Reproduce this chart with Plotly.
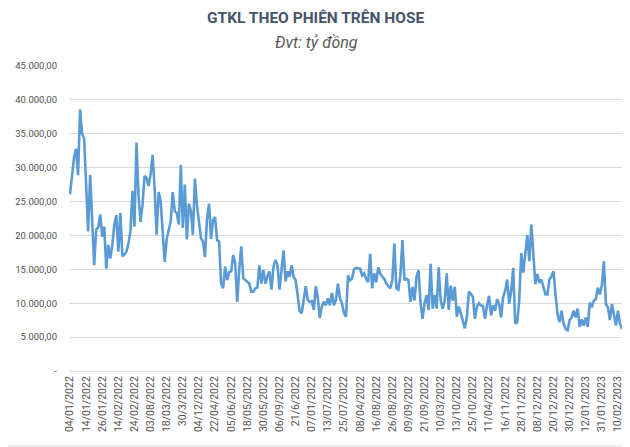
import plotly.graph_objects as go

values = [
    26100, 28500, 31500, 32800, 28900, 38600, 35000, 34300, 28500, 20600,
    28900, 22000, 15600, 20900, 21200, 23100, 19800, 21300, 15100, 18600,
    16600, 18600, 21600, 23000, 17600, 23300, 16900, 17200, 17600, 18800,
    20600, 26600, 21300, 33700, 26000, 22000, 24500, 28800, 28500, 27300,
    29000, 31900, 27000, 20100, 26400, 25100, 21000, 16100, 19500, 20900,
    22100, 26400, 23600, 23300, 21600, 30400, 21100, 27500, 19400, 24700,
    23600, 20100, 28400, 24500, 22000, 19600, 19100, 16800, 22500, 24700,
    19500, 22300, 22700, 19300, 19100, 12900, 12200, 15400, 13400, 14600,
    14700, 17100, 15900, 10200, 14900, 18400, 13700, 13400, 13200, 12900,
    11700, 11700, 12200, 12300, 15600, 12900, 14900, 12900, 14000, 14700,
    12000, 15400, 16400, 15600, 12000, 15400, 17800, 13200, 14700, 13900,
    15600, 13900, 13400, 11200, 8800, 8500, 10200, 12500, 10500, 10200,
    10300, 9000, 12500, 10800, 7800, 9500, 10200, 9700, 10700, 9700,
    11500, 9700, 10500, 12900, 10700, 10000, 8500, 8000, 14100, 13400,
    13600, 15000, 15200, 15200, 15100, 14100, 14400, 13600, 13100, 17300,
    12200, 14400, 13100, 15300, 14400, 13900, 13600, 12900, 12500, 12200,
    13400, 18800, 12200, 12000, 14100, 19300, 13400, 13600, 13400, 10200,
    12400, 10400, 13900, 14900, 10000, 7700, 10000, 11200, 9000, 15800,
    9200, 11200, 9200, 15300, 10400, 9200, 10400, 14400, 9000, 12600,
    10400, 12400, 8000, 9500, 8500, 7300, 6300, 8000, 11700, 11400,
    10900, 7700, 9500, 10000, 9650, 9600, 7700, 9650, 11100, 8200,
    9700, 8900, 10600, 9900, 7900, 10900, 11800, 13500, 9900, 11800,
    15200, 7000, 7200, 10500, 17400, 14500, 17400, 20100, 16200, 21600,
    17200, 12800, 14300, 13000, 13500, 12300, 11300, 11300, 13500, 14000,
    14700, 11300, 8400, 7200, 8900, 7000, 6200, 6000, 7500, 7900,
    8900, 7900, 9200, 6500, 7600, 6700, 7900, 6500, 10100, 9400,
    10400, 10600, 12300, 11300, 12600, 16200, 9900, 9400, 7500, 9900,
    8400, 6700, 8900, 7000, 6200,
]

tick_labels = [
    "04/01/2022", "14/01/2022", "26/01/2022", "14/02/2022", "24/02/2022",
    "03/08/2022", "18/03/2022", "30/3/2022", "04/12/2022", "22/04/2022",
    "05/06/2022", "18/05/2022", "30/05/2022", "06/09/2022", "21/6/2022",
    "07/01/2022", "13/07/2022", "25/07/2022", "08/04/2022", "16/08/2022",
    "26/08/2022", "09/09/2022", "21/09/2022", "10/03/2022", "13/10/2022",
    "25/10/2022", "11/04/2022", "16/11/2022", "28/11/2022", "08/12/2022",
    "20/12/2022", "30/12/2022", "12/01/2023", "31/01/2023", "10/02/2023",
]
label_step = 8

y_ticks = [0, 5000, 10000, 15000, 20000, 25000, 30000, 35000, 40000, 45000]
y_tick_text = ["-", "5.000,00", "10.000,00", "15.000,00", "20.000,00",
               "25.000,00", "30.000,00", "35.000,00", "40.000,00", "45.000,00"]

title_text = "GTKL THEO PHIÊN TRÊN HOSE"
subtitle_text = "Đvt: tỷ đồng"

x = list(range(len(values)))

# The page body has an 8px default margin, so the figure is drawn 8px
# in from the top-left corner of the window; size it to fill the rest.
OFF = 8
W, H = 630 - OFF, 447 - OFF
ML, MR, MT, MB = 69 - OFF, 7, 66 - OFF, 76

fig = go.Figure()
fig.add_trace(go.Scatter(
    x=x, y=values, mode="lines",
    line=dict(color="#5B9BD5", width=2.6),
    hoverinfo="y",
))

font_family = "Roboto, 'Open Sans', Arial, sans-serif"

plot_h = H - MT - MB
plot_w = W - ML - MR

# bottom frame line of the chart area (window y = 446)
frame_y = (H - MB - (446 - OFF)) / plot_h

fig.update_layout(
    width=W, height=H,
    margin=dict(l=ML, r=MR, t=MT, b=MB, autoexpand=False),
    paper_bgcolor="white", plot_bgcolor="white",
    showlegend=False,
    font=dict(family=font_family, color="#595959"),
    xaxis=dict(
        range=[-0.5, len(values) - 0.5],
        tickmode="array",
        tickvals=[i * label_step for i in range(len(tick_labels))],
        ticktext=tick_labels,
        tickangle=-90,
        tickfont=dict(size=10.5, color="#555555"),
        showgrid=False, zeroline=False,
        showline=True, linecolor="#d9d9d9", linewidth=1,
        ticks="", automargin=False,
    ),
    yaxis=dict(
        range=[0, 45000],
        tickmode="array",
        tickvals=y_ticks, ticktext=y_tick_text,
        tickfont=dict(size=9.5, color="#505050"),
        showgrid=True, gridcolor="#d9d9d9", gridwidth=1,
        zeroline=False, showline=False, ticks="",
        ticklabelstandoff=11, automargin=False,
    ),
    shapes=[
        dict(type="line", xref="paper", yref="paper",
             x0=-ML / plot_w, x1=(W - ML) / plot_w,
             y0=frame_y, y1=frame_y,
             line=dict(color="#d9d9d9", width=1)),
    ],
    annotations=[
        dict(text="<b>" + title_text + "</b>",
             x=(315 - OFF - ML) / plot_w, y=(H - MB - (18 - OFF)) / plot_h,
             xref="paper", yref="paper", showarrow=False,
             xanchor="center", yanchor="middle",
             font=dict(size=15.5, color="#44546A", family=font_family)),
        dict(text="<i>" + subtitle_text + "</i>",
             x=(316 - OFF - ML) / plot_w, y=(H - MB - (42 - OFF)) / plot_h,
             xref="paper", yref="paper", showarrow=False,
             xanchor="center", yanchor="middle",
             font=dict(size=16, color="#595959", family=font_family)),
    ],
)

fig.write_html("out.html")
